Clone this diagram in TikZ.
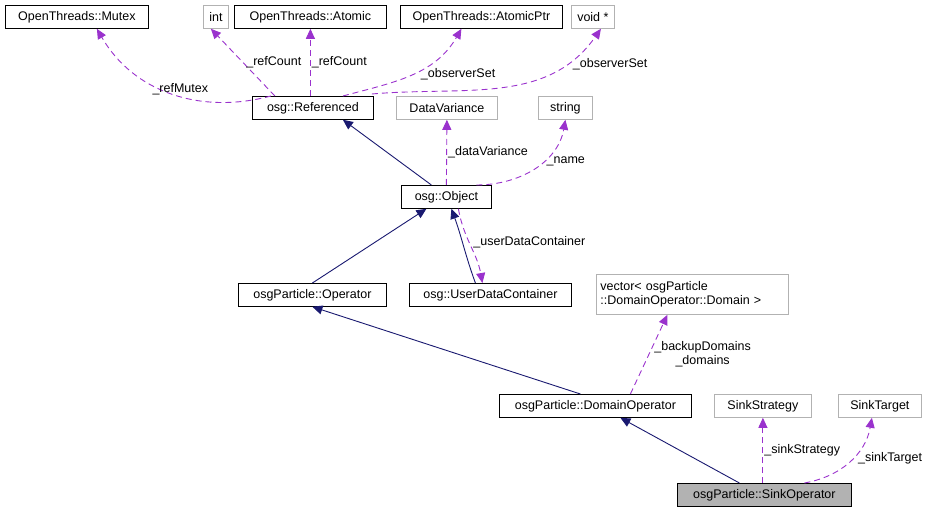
\documentclass[tikz,border=0pt]{standalone}
\usepackage{fontspec}
\setmainfont{Liberation Sans}
\usetikzlibrary{arrows.meta}
\definecolor{navy}{HTML}{191970}
\definecolor{purp}{HTML}{9A32CD}
\begin{document}
\begin{tikzpicture}[x=1pt,y=-1pt,
 box/.style={draw=black,line width=0.8pt,fill=white,inner sep=0pt,font=\fontsize{12.5}{14}\selectfont,anchor=north west,align=center},
 gbox/.style={box,draw=black!30},
 inh/.style={draw=navy,line width=0.9pt,-{Triangle[length=10pt,width=9pt]}},
 use/.style={draw=purp,line width=0.9pt,dash pattern=on 6pt off 4pt,-{Triangle[length=10pt,width=9pt]}},
 lab/.style={font=\fontsize{12.5}{14}\selectfont,align=center,inner sep=1pt}]
\useasboundingbox (0,0) rectangle (943,513);
\newcommand{\bx}[6]{\node[#1,minimum width=#4pt,minimum height=#5pt] (#2) at #3 {#6};}
\bx{box}{mutex}{(5,5)}{143}{23}{OpenThreads::Mutex}
\bx{gbox}{int}{(203,5)}{25}{23}{int}
\bx{box}{atomic}{(234,5)}{152}{23}{OpenThreads::Atomic}
\bx{box}{aptr}{(400,5)}{162}{23}{OpenThreads::AtomicPtr}
\bx{gbox}{void}{(571,5)}{43}{23}{void *}
\bx{box}{ref}{(252,96)}{121}{23}{osg::Referenced}
\bx{gbox}{dv}{(396,96)}{101}{23}{DataVariance}
\bx{gbox}{str}{(538,96)}{54}{23}{string}
\bx{box}{obj}{(401,185)}{90}{23}{osg::Object}
\bx{box}{op}{(238,283)}{148}{23}{osgParticle::Operator}
\bx{box}{udc}{(409,283)}{162}{23}{osg::UserDataContainer}
\node[gbox,minimum width=192pt,minimum height=40pt,align=left,text width=184pt] (vec) at (596,274) {vector< osgParticle\\::DomainOperator::Domain >};
\bx{box}{dom}{(499,394)}{192}{23}{osgParticle::DomainOperator}
\bx{gbox}{ss}{(714,394)}{97}{23}{SinkStrategy}
\bx{gbox}{st}{(838,394)}{83}{23}{SinkTarget}
\node[box,fill=black!30,minimum width=174pt,minimum height=23pt] (sink) at (677,483) {osgParticle::SinkOperator};

\draw[use] ([xshift=-42pt]ref.north) to[out=195,in=300] node[lab,pos=0.45,above]{\_refMutex} ([xshift=20pt]mutex.south);
\draw[use] ([xshift=-38pt]ref.north) -- node[lab,pos=0.5,right=2pt]{\_refCount} ([xshift=-5pt]int.south);
\draw[use] (atomic.south |- ref.north) -- node[lab,pos=0.5,right]{\_refCount} (atomic.south);
\draw[use] ([xshift=30pt]ref.north) to[out=15,in=240] node[lab,pos=0.5,right=8pt]{\_observerSet} ([xshift=-20pt]aptr.south);
\draw[use] ([xshift=-2pt,yshift=2pt]ref.north east) to[out=5,in=235] node[lab,pos=0.8,right=6pt]{\_observerSet} ([xshift=8pt]void.south);
\draw[inh] ([xshift=-15pt]obj.north) -- ([xshift=30pt]ref.south);
\draw[use] (obj.north) -- node[lab,right]{\_dataVariance} (dv.south);
\draw[use] ([xshift=30pt]obj.north) to[out=0,in=260] node[lab,pos=0.6,right=2pt]{\_name} (str.south);
\draw[inh] (op.north) -- ([xshift=-20pt]obj.south);
\draw[inh] ([xshift=-15pt]udc.north) to[out=110,in=290] ([xshift=5pt]obj.south);
\draw[use] ([xshift=12pt]obj.south) to[out=-80,in=100] node[lab,pos=0.45,right=3pt]{\_userDataContainer} ([xshift=-8pt]udc.north);
\draw[inh] ([xshift=-15pt]dom.north) -- (op.south);
\draw[use] ([xshift=35pt]dom.north) -- node[lab,pos=0.5,right=4pt]{\_backupDomains\\\_domains} ([xshift=-25pt]vec.south);
\draw[inh] ([xshift=-25pt]sink.north) -- ([xshift=25pt]dom.south);
\draw[use] (ss.south |- sink.north) -- node[lab,right]{\_sinkStrategy} (ss.south);
\draw[use] ([xshift=40pt]sink.north) to[out=10,in=260] node[lab,pos=0.55,right=4pt]{\_sinkTarget} ([xshift=-8pt]st.south);
\end{tikzpicture}
\end{document}
